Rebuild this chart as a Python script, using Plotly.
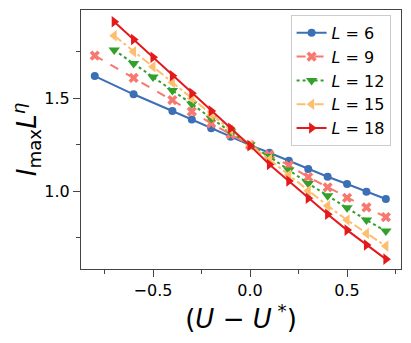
import plotly.graph_objects as go

# x values (U - U*) for each system size
x_small = [-0.8, -0.6, -0.4, -0.3, -0.2, -0.1, 0.0, 0.1, 0.2, 0.3, 0.4, 0.5, 0.6, 0.7]
x_large = [-0.7, -0.6, -0.5, -0.4, -0.3, -0.2, -0.1, 0.0, 0.1, 0.2, 0.3, 0.4, 0.5, 0.6, 0.7]

# I_max L^eta
y_L6 = [1.618, 1.520, 1.430, 1.384, 1.337, 1.292, 1.247, 1.206, 1.163, 1.118, 1.077, 1.038, 0.996, 0.957]
y_L9 = [1.728, 1.608, 1.489, 1.427, 1.364, 1.305, 1.247, 1.194, 1.138, 1.075, 1.020, 0.964, 0.912, 0.860]
y_L12 = [1.758, 1.686, 1.613, 1.541, 1.468, 1.391, 1.319, 1.247, 1.185, 1.113, 1.041, 0.975, 0.910, 0.844, 0.785]
y_L15 = [1.835, 1.749, 1.668, 1.584, 1.498, 1.409, 1.328, 1.247, 1.170, 1.086, 1.002, 0.921, 0.844, 0.772, 0.704]
y_L18 = [1.910, 1.815, 1.719, 1.620, 1.525, 1.430, 1.337, 1.244, 1.143, 1.054, 0.961, 0.875, 0.790, 0.710, 0.634]

series = [
    ("L = 6", x_small, y_L6, "#3b6fb6", "solid", "circle", 8),
    ("L = 9", x_small, y_L9, "#f8786f", "dash", "x", 9),
    ("L = 12", x_large, y_L12, "#33a02c", "dot", "triangle-down", 10),
    ("L = 15", x_large, y_L15, "#fdbf6f", "dashdot", "triangle-left", 10),
    ("L = 18", x_large, y_L18, "#e31a1c", "solid", "triangle-right", 10),
]

fig = go.Figure()
for name, xs, ys, col, dash, sym, msize in series:
    lab = "<i>L</i> = " + name.split("= ")[1]
    fig.add_trace(go.Scatter(x=xs, y=ys, name=lab, mode="lines+markers",
                             line=dict(color=col, width=2, dash=dash),
                             marker=dict(symbol=sym, size=msize, color=col)))

axis_common = dict(showgrid=False, zeroline=False, showline=True, mirror=True,
                   linecolor="#444444", linewidth=1, ticks="outside", ticklen=7,
                   tickwidth=1, tickcolor="#444444", automargin=False,
                   tickformat=".1f",
                   tickfont=dict(family="DejaVu Sans", size=16, color="black"))

fig.update_xaxes(range=[-0.871, 0.778], tick0=0, dtick=0.5,
                 minor=dict(dtick=0.25, ticks="outside", ticklen=4, tickcolor="#444444"),
                 title=dict(text="(<i>U</i> − <i>U</i><sup> *</sup>)",
                            font=dict(family="DejaVu Sans", size=26, color="black"),
                            standoff=4),
                 **axis_common)
fig.update_yaxes(range=[0.581, 1.973], tick0=0, dtick=0.5,
                 minor=dict(dtick=0.25, ticks="outside", ticklen=4, tickcolor="#444444"),
                 title=dict(text="<i>I</i><sub>max</sub><i>L</i><sup><i>η</i></sup>",
                            font=dict(family="DejaVu Sans", size=26, color="black"),
                            standoff=8),
                 **axis_common)

# page body adds an 8px offset, so the figure is a bit smaller than the window
fig.update_layout(width=403, height=335,
                  margin=dict(l=73, r=10, t=2, b=74),
                  paper_bgcolor="white", plot_bgcolor="white",
                  showlegend=True,
                  legend=dict(x=0.655, y=0.981, xanchor="left", yanchor="top",
                              bgcolor="rgba(255,255,255,0.8)", bordercolor="#cccccc",
                              borderwidth=1, itemwidth=30, tracegroupgap=0,
                              font=dict(family="DejaVu Sans", size=16, color="black")))

fig.write_html("out.html")
